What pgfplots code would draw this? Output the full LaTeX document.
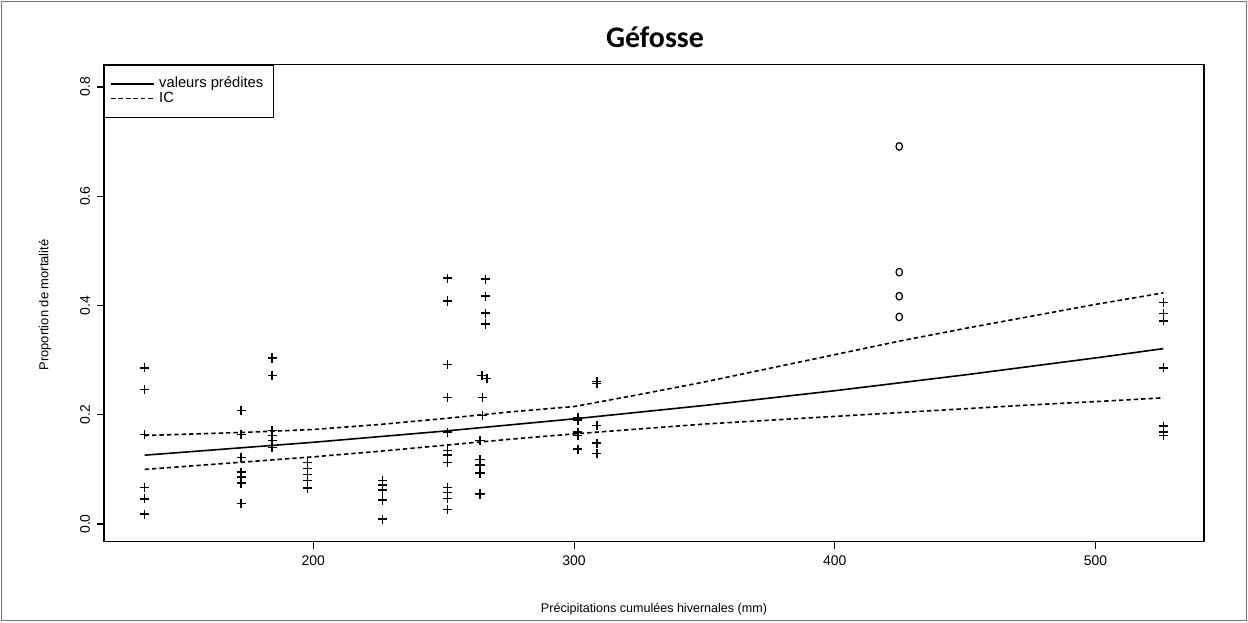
\documentclass[border=0pt]{standalone}
\usepackage{pgfplots}
\pgfplotsset{compat=1.18}
\usepackage{fontspec}
\setmainfont{Liberation Sans}
\newfontfamily\titlefont{Carlito}
\begin{document}
\begin{tikzpicture}[x=1bp,y=1bp]
\path[use as bounding box] (0,0) rectangle (624,311);
\draw[black!55, line width=0.6bp] (0.8,0.8) rectangle (623.2,310.2);
\node[font=\titlefont\bfseries\fontsize{15}{15}\selectfont] at (327.5,292.5) {Géfosse};
\node[font=\fontsize{6.3}{7}\selectfont] at (327,6.5) {Précipitations cumulées hivernales (mm)};
\node[rotate=90, font=\fontsize{6.5}{7}\selectfont] at (22.5,158.5) {Proportion de mortalité};
\begin{axis}[
  at={(52bp,40.25bp)}, anchor=south west,
  width=550bp, height=238.5bp, scale only axis,
  xmin=119.7, xmax=541.6, ymin=-0.032, ymax=0.841,
  xtick={200,300,400,500}, xticklabels={200,300,400,500},
  ytick={0,0.2,0.4,0.6,0.8}, yticklabels={0.0,0.2,0.4,0.6,0.8},
  tick pos=left, tick align=outside, major tick length=3.5bp,
  tick style={black, line width=0.6bp},
  axis line style={black, line width=0.7bp},
  tick label style={font=\fontsize{7}{8}\selectfont},
  yticklabel style={rotate=90, anchor=south},
  /pgf/number format/assume math mode=true,
  legend cell align=left,
  legend style={at={(0,1)}, anchor=north west, draw=black, line width=0.6bp,
    font=\fontsize{7.4}{7.4}\selectfont, inner xsep=3bp, inner ysep=4bp,
    row sep=-3.5bp},
  legend image code/.code={\path (0bp,0bp) -- (21.5bp,0bp); \draw[#1] (3.5bp,0bp) -- (18.5bp,0bp);},
]
\addplot[black, line width=0.8bp] coordinates {
(135.3,0.126) (200,0.1496) (250,0.170) (300,0.1925) (350,0.217) (400,0.244) (450,0.273) (500,0.304) (526,0.321)};
\addlegendentry{valeurs prédites}
\addplot[black, line width=0.8bp, dash pattern=on 2.2bp off 1.5bp] coordinates {
(135.3,0.162) (175,0.168) (200,0.173) (225,0.182) (250,0.193) (275,0.205) (300,0.215) (325,0.237) (350,0.260) (375,0.285) (400,0.310) (425,0.335) (450,0.358) (475,0.380) (500,0.402) (526,0.423)};
\addlegendentry{IC}
\addplot[black, line width=0.8bp, dash pattern=on 2.2bp off 1.5bp, forget plot] coordinates {
(135.3,0.100) (175,0.114) (200,0.123) (225,0.133) (250,0.144) (275,0.155) (300,0.165) (325,0.174) (350,0.183) (375,0.190) (400,0.197) (425,0.204) (450,0.211) (475,0.218) (500,0.224) (526,0.231)};
\addplot[only marks, mark=+, mark size=2.3bp, line width=0.75bp, black, forget plot] coordinates {
(135.3,0.286) (135.3,0.246) (135.3,0.164) (135.3,0.067) (135.3,0.046) (135.3,0.018)
(172.3,0.208) (172.3,0.164) (172.3,0.122) (172.3,0.095) (172.3,0.086) (172.3,0.075) (172.3,0.038)
(184.2,0.304) (184.2,0.272) (184.2,0.171) (184.2,0.162) (184.2,0.153) (184.2,0.140)
(197.7,0.113) (197.7,0.102) (197.7,0.091) (197.7,0.080) (197.7,0.066)
(226.5,0.080) (226.5,0.071) (226.5,0.062) (226.5,0.044) (226.5,0.009)
(251.5,0.450) (251.5,0.408) (251.5,0.292) (251.5,0.232) (251.5,0.168) (251.5,0.135) (251.5,0.126) (251.5,0.113) (251.5,0.067) (251.5,0.058) (251.5,0.047) (251.5,0.027)
(266.1,0.448) (266.1,0.417) (266.1,0.386) (266.1,0.366) (264.6,0.272) (266.5,0.266) (264.8,0.232) (264.8,0.199) (263.9,0.153) (263.9,0.118) (263.9,0.108) (263.9,0.093) (263.9,0.055)
(301.4,0.195) (301.4,0.190) (301.4,0.168) (301.4,0.162) (301.4,0.137)
(308.7,0.261) (308.7,0.257) (308.7,0.180) (308.7,0.148) (308.7,0.129)
(526,0.405) (526,0.385) (526,0.372) (526,0.286) (526,0.179) (526,0.168) (526,0.162)
};
\addplot[only marks, mark=o, mark size=1.9bp, line width=0.6bp, black, mark options={xscale=0.85}, forget plot] coordinates {
(424.7,0.691) (424.7,0.461) (424.7,0.417) (424.7,0.379)
};
\end{axis}
\end{tikzpicture}
\end{document}
